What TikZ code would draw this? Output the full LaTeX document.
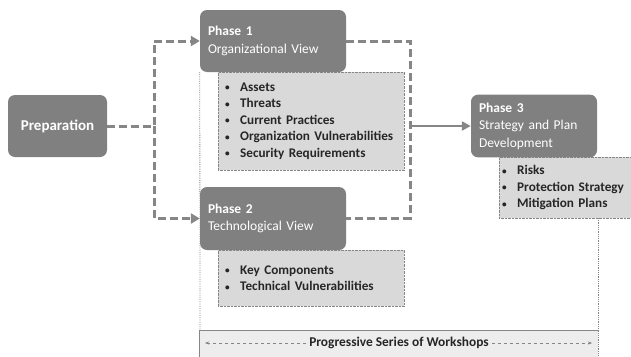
\documentclass[tikz,border=0pt]{standalone}
\usepackage{fontspec}
\setmainfont{Carlito}
\usepackage{xcolor}
\usepackage{tikz}
\usetikzlibrary{shapes,arrows,positioning,calc,arrows.meta}

\definecolor{phasegray}{HTML}{808080}
\definecolor{listgray}{HTML}{D9D9D9}
\definecolor{wsgray}{HTML}{EDEDED}
\definecolor{linegray}{HTML}{868686}
\definecolor{txtgray}{HTML}{262626}

\newcommand{\itm}[1]{\makebox[15pt][l]{\raisebox{0.5pt}{\scalebox{0.7}{\textbullet}}}#1\\}

\tikzset{
  phasebox/.style={draw=none, fill=phasegray, rounded corners=7pt, text=white,
    align=left, inner sep=8pt, font=\fontsize{13.5}{17.5}\selectfont},
  listbox/.style={draw=linegray, densely dotted, fill=listgray, text=txtgray,
    align=left, anchor=north west, inner sep=0pt,
    font=\bfseries\fontsize{13.2}{16.5}\selectfont},
  flow/.style={draw=linegray, line width=3pt, dash pattern=on 8pt off 4pt,
    -{Triangle[length=9pt,width=10pt]}},
}

\begin{document}
\begin{tikzpicture}[x=1pt, y=-1pt]
    \useasboundingbox (0,0) rectangle (631,356);

    % list boxes (behind the phases)
    \node[listbox, minimum width=186pt, minimum height=98pt, text width=172pt] (lst1) at (218,72)
      {\itm{Assets}\itm{Threats}\itm{Current Practices}\itm{Organization Vulnerabilities}\itm{Security Requirements}};
    \node[listbox, minimum width=186pt, minimum height=56pt, text width=172pt] (lst2) at (218,250)
      {\itm{Key Components}\itm{Technical Vulnerabilities}};
    \node[listbox, minimum width=140pt, minimum height=61pt, text width=134pt] (lst3) at (499,157)
      {\itm{Risks}\itm{Protection Strategy}\itm{Mitigation Plans}};

    % phases
    \node[phasebox, minimum width=99pt, minimum height=62pt, font=\bfseries\fontsize{15}{17}\selectfont] (prep) at (57.5,126) {Preparation};
    \node[phasebox, minimum width=146pt, minimum height=62pt, text width=130pt] (ph1) at (273,41)
      {\textbf{Phase 1}\\Organizational View};
    \node[phasebox, minimum width=146pt, minimum height=63pt, text width=130pt] (ph2) at (273,218.5)
      {\textbf{Phase 2}\\Technological View};
    \node[phasebox, minimum width=126pt, minimum height=62pt, text width=110pt] (ph3) at (534,126)
      {\textbf{Phase 3}\\Strategy and Plan\\Development};

    % workshops
    \fill[wsgray] (199,330) rectangle (598,362);
    \draw[linegray, line width=0.8pt] (199,362) -- (199,330) -- (598,330);
    \node[font=\bfseries\fontsize{13.4}{15}\selectfont, text=txtgray, fill=wsgray, inner xsep=3pt] (wsh) at (399,343)
      {Progressive Series of Workshops};
    \draw[linegray, dashed, -{Stealth[length=4pt]}] (wsh.west) -- (205,343);
    \draw[linegray, dashed, -{Stealth[length=4pt]}] (wsh.east) -- (592,343);

    % guide lines
    \draw[linegray, densely dotted, line width=0.8pt] (ph1.south west) -- (200,330);
    \draw[linegray, densely dotted, line width=0.8pt] (598,218) -- (598,356);

    % connectors
    \coordinate (split) at (154,126);
    \coordinate (join) at (410,126);
    \draw[flow] (prep.east) -- (split) |- (ph1.west);
    \draw[flow] (split) |- (ph2.west);
    \draw[flow, -] (ph1.east) -| (join) |- (ph2.east);
    \draw[linegray, line width=2.2pt, -{Triangle[length=9pt,width=9pt]}] (join) -- (ph3.west);
\end{tikzpicture}
\end{document}
